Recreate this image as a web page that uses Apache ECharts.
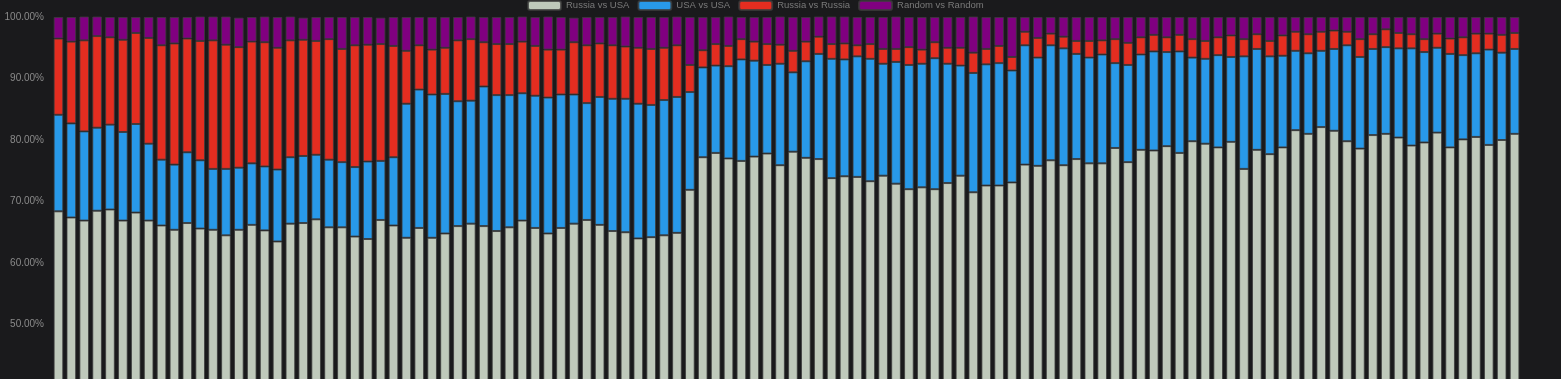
<!DOCTYPE html>
<html>
<head>
<meta charset="utf-8">
<script src="https://cdn.jsdelivr.net/npm/echarts@6/dist/echarts.min.js"></script>
<style>
html,body{margin:0;padding:0;background:#1a1a1c;overflow:hidden;}
#chart{width:1561px;height:700px;}
</style>
</head>
<body>
<div id="chart"></div>
<script>
const seriesNames = ['Russia vs USA', 'USA vs USA', 'Russia vs Russia', 'Random vs Random'];
const categories = [];
for (let i = 1; i <= 114; i++) categories.push(String(i));
const yTicks = [0, 10, 20, 30, 40, 50, 60, 70, 80, 90, 100];

const russiaVsUsa = [
68.4, 67.4, 66.9, 68.5, 68.7, 66.9, 68.2, 66.9, 66.1, 65.4,
66.5, 65.6, 65.4, 64.5, 65.4, 66.2, 65.3, 63.5, 66.4, 66.5,
67.1, 65.8, 65.8, 64.3, 63.9, 67.0, 66.1, 64.1, 65.7, 64.1,
64.8, 66.0, 66.4, 66.0, 65.2, 65.8, 66.9, 65.7, 64.8, 65.7,
66.4, 67.0, 66.2, 65.2, 65.0, 64.0, 64.2, 64.5, 64.9, 71.9,
77.2, 77.9, 77.0, 76.6, 77.3, 77.8, 75.9, 78.1, 77.1, 76.9,
73.8, 74.1, 74.0, 73.3, 74.2, 72.9, 72.0, 72.3, 72.0, 73.0,
74.2, 71.5, 72.6, 72.6, 73.1, 76.0, 75.8, 76.7, 75.9, 76.9,
76.2, 76.2, 78.7, 76.4, 78.4, 78.3, 79.0, 77.9, 79.8, 79.4,
78.8, 79.7, 75.3, 78.4, 77.7, 78.8, 81.6, 81.0, 82.1, 81.5,
79.8, 78.6, 80.8, 81.0, 80.4, 79.1, 79.6, 81.2, 78.8, 80.1,
80.5, 79.2, 80.0, 81.0];

const usaVsUsa = [
15.7, 15.3, 14.5, 13.5, 13.8, 14.4, 14.4, 12.5, 10.7, 10.6,
11.5, 11.1, 9.9, 10.8, 10.1, 10.0, 10.4, 11.7, 10.8, 10.9,
10.5, 11.0, 10.6, 11.3, 12.6, 9.6, 11.1, 21.8, 22.5, 23.3,
22.7, 20.3, 20.0, 22.7, 22.1, 21.5, 20.7, 21.5, 22.1, 21.7,
21.0, 19.0, 20.8, 21.5, 21.7, 21.9, 21.5, 22.0, 22.1, 15.9,
14.6, 14.2, 15.0, 16.5, 15.6, 14.4, 16.5, 12.9, 15.7, 17.1,
19.4, 19.0, 19.6, 19.9, 18.2, 19.8, 20.2, 20.1, 21.3, 19.4,
17.9, 19.4, 19.7, 19.9, 18.2, 19.4, 17.6, 18.7, 19.0, 17.1,
17.2, 17.7, 13.8, 15.8, 15.5, 16.1, 15.3, 16.5, 13.6, 13.8,
15.0, 13.8, 18.3, 16.4, 15.9, 14.9, 12.9, 13.1, 12.4, 13.3,
15.6, 14.9, 14.0, 14.1, 14.5, 15.8, 14.7, 13.8, 15.2, 13.7,
13.6, 15.5, 14.2, 13.8];

const russiaVsRussia = [
12.4, 13.3, 14.8, 14.9, 14.2, 15.0, 14.8, 17.2, 18.6, 19.7,
18.5, 19.4, 20.9, 20.2, 19.6, 19.8, 20.2, 19.8, 19.0, 18.9,
18.5, 19.6, 18.4, 19.8, 19.0, 19.0, 18.1, 8.6, 7.2, 7.3,
7.5, 9.9, 10.0, 7.2, 8.3, 8.3, 8.4, 8.1, 7.8, 7.3,
8.5, 9.4, 8.7, 8.7, 8.5, 9.1, 9.1, 8.5, 8.4, 4.4,
2.8, 3.5, 3.3, 3.3, 3.1, 3.4, 3.1, 3.5, 3.2, 2.8,
2.4, 2.6, 1.8, 2.4, 2.4, 2.1, 2.9, 2.3, 2.6, 2.6,
2.9, 3.3, 2.5, 2.8, 2.2, 2.2, 3.2, 1.9, 1.9, 2.1,
2.7, 2.3, 3.9, 3.6, 2.8, 2.7, 2.4, 2.7, 3.0, 2.9,
2.9, 3.5, 2.8, 2.4, 2.5, 3.3, 3.1, 3.1, 3.1, 3.0,
2.2, 2.9, 2.4, 2.9, 2.5, 2.3, 2.1, 2.3, 2.5, 2.9,
3.2, 2.6, 2.9, 2.6];

const randomVsRandom = [
3.5, 4.0, 3.9, 3.2, 3.3, 3.7, 2.6, 3.4, 4.6, 4.3,
3.5, 4.0, 3.9, 4.6, 4.8, 4.0, 4.2, 5.0, 3.9, 3.6,
3.9, 3.6, 5.2, 4.6, 4.5, 4.3, 4.7, 5.5, 4.6, 5.3,
5.0, 3.8, 3.7, 4.1, 4.4, 4.4, 4.1, 4.7, 5.4, 5.3,
4.0, 4.6, 4.3, 4.6, 4.9, 5.0, 5.2, 5.0, 4.7, 7.8,
5.4, 4.4, 4.8, 3.6, 4.0, 4.4, 4.6, 5.5, 4.0, 3.3,
4.5, 4.4, 4.6, 4.4, 5.2, 5.3, 4.9, 5.3, 4.1, 5.0,
5.0, 5.9, 5.2, 4.7, 6.5, 2.4, 3.4, 2.7, 3.2, 3.9,
3.9, 3.8, 3.6, 4.2, 3.3, 2.9, 3.3, 2.9, 3.6, 3.9,
3.3, 3.0, 3.6, 2.8, 3.9, 3.0, 2.4, 2.8, 2.4, 2.2,
2.4, 3.6, 2.8, 2.0, 2.6, 2.8, 3.6, 2.7, 3.5, 3.3,
2.7, 2.7, 2.9, 2.6];

const colors = ['#bfc9bb', '#2899e9', '#e42d20', '#800080'];
const dataList = [russiaVsUsa, usaVsUsa, russiaVsRussia, randomVsRandom];

const chart = echarts.init(document.getElementById('chart'));
chart.setOption({
  backgroundColor: '#1a1a1c',
  animation: false,
  color: colors,
  legend: {
    top: 0,
    left: 527,
    padding: 0,
    itemWidth: 33,
    itemHeight: 9,
    itemGap: 8,
    textStyle: { color: '#7a7a7a', fontSize: 9.5, fontFamily: 'Liberation Sans, Arial, sans-serif' },
    data: seriesNames
  },
  grid: { left: 52, right: 40, top: 17, bottom: 68 },
  xAxis: {
    type: 'category',
    data: categories,
    axisLine: { lineStyle: { color: '#555' } },
    axisTick: { show: false },
    axisLabel: { color: '#888', fontSize: 10 }
  },
  yAxis: {
    type: 'value',
    min: yTicks[0],
    max: yTicks[yTicks.length - 1],
    interval: 10,
    splitLine: { show: false },
    axisLine: { show: false },
    axisTick: { show: false },
    axisLabel: {
      color: '#8a8a8a',
      fontSize: 10,
      fontFamily: 'Liberation Sans, Arial, sans-serif',
      formatter: v => v.toFixed(2) + '%'
    }
  },
  series: seriesNames.map((name, i) => ({
    name: name,
    type: 'bar',
    stack: 'total',
    barCategoryGap: '25%',
    data: dataList[i],
    itemStyle: { color: colors[i], borderColor: 'rgba(60,60,60,0.8)', borderWidth: 1 }
  }))
});
</script>
</body>
</html>
